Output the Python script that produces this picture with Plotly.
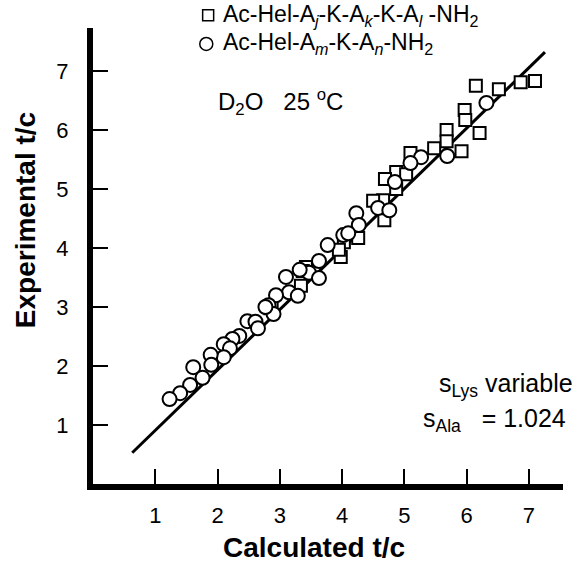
import plotly.graph_objects as go

# Ac-Hel-Aj-K-Ak-K-Al-NH2 peptides (squares): calculated vs experimental t/c
sq_calc = [6.15, 6.52, 6.87, 7.10, 5.97, 5.98, 6.21, 5.92, 5.68, 5.68, 5.48, 5.10,
           4.87, 5.03, 4.69, 4.87, 4.66, 4.50, 4.68, 4.03, 4.26, 3.98, 3.95, 3.42,
           3.37, 3.34, 2.85, 2.87]
sq_exp = [6.75, 6.69, 6.81, 6.83, 6.34, 6.17, 5.95, 5.64, 6.00, 5.81, 5.69, 5.61,
          5.29, 5.25, 5.17, 5.00, 4.81, 4.80, 4.47, 4.10, 4.17, 3.85, 3.97, 3.68,
          3.61, 3.36, 2.98, 3.02]

# Ac-Hel-Am-K-An-NH2 peptides (circles)
ci_calc = [6.32, 5.69, 5.27, 5.10, 4.85, 4.58, 4.76, 4.23, 4.27, 4.02, 4.10, 3.77,
           3.63, 3.47, 3.63, 3.10, 3.32, 3.15, 3.29, 2.94, 2.82, 2.90, 2.77, 2.48,
           2.61, 2.65, 2.35, 2.24, 2.10, 2.20, 2.10, 1.89, 1.90, 1.61, 1.76, 1.56,
           1.40, 1.23]
ci_exp = [6.46, 5.56, 5.54, 5.44, 5.12, 4.68, 4.64, 4.59, 4.39, 4.22, 4.25, 4.05,
          3.78, 3.58, 3.49, 3.51, 3.63, 3.25, 3.19, 3.20, 3.03, 2.88, 3.00, 2.76,
          2.75, 2.64, 2.51, 2.46, 2.37, 2.30, 2.15, 2.19, 2.02, 1.98, 1.80, 1.68,
          1.54, 1.44]

# fitted line endpoints
fit_x = [0.63, 7.26]
fit_y = [0.53, 7.32]

ticks = [1, 2, 3, 4, 5, 6, 7]

sq_name = "Ac-Hel-A<sub><i>j</i></sub>-K-A<sub><i>k</i></sub>-K-A<sub><i>l</i></sub> -NH<sub>2</sub>"
ci_name = "Ac-Hel-A<sub><i>m</i></sub>-K-A<sub><i>n</i></sub>-NH<sub>2</sub>"

FONT = "Liberation Sans, Arial, sans-serif"

fig = go.Figure()
fig.add_trace(go.Scatter(x=fit_x, y=fit_y, mode="lines",
                         line=dict(color="black", width=3), showlegend=False,
                         hoverinfo="skip"))
fig.add_trace(go.Scatter(
    x=sq_calc, y=sq_exp, mode="markers", name=sq_name, showlegend=False,
    marker=dict(symbol="square", size=12, color="white",
                line=dict(color="black", width=2))))
fig.add_trace(go.Scatter(
    x=ci_calc, y=ci_exp, mode="markers", name=ci_name, showlegend=False,
    marker=dict(symbol="circle", size=14, color="white",
                line=dict(color="black", width=2))))

axis_common = dict(
    showgrid=False, zeroline=False, showline=True, linecolor="black", linewidth=6,
    ticks="inside", ticklen=15, tickwidth=2, tickcolor="black",
    tickvals=ticks, ticktext=[str(t) for t in ticks],
    tickfont=dict(family=FONT, size=22, color="black"),
)

fig.update_xaxes(range=[0, 7.55], ticklabelstandoff=7, **axis_common)
fig.update_yaxes(range=[0, 7.73], ticklabelstandoff=14, **axis_common)

# manual legend (key symbols + labels), placed in paper space above the data
L_TOP = 1.028   # paper y of first legend row
L_BOT = 0.965   # paper y of second legend row
L_KEY = 0.245   # paper x of key symbols
L_TXT = 0.272   # paper x of label text

shapes = [
    dict(type="rect", xref="paper", yref="paper", xsizemode="pixel", ysizemode="pixel",
         xanchor=L_KEY, yanchor=L_TOP, x0=-5.5, x1=5.5, y0=-5.5, y1=5.5,
         line=dict(color="black", width=1.5), fillcolor="white"),
    dict(type="circle", xref="paper", yref="paper", xsizemode="pixel", ysizemode="pixel",
         xanchor=L_KEY - 0.004, yanchor=L_BOT, x0=-6.5, x1=6.5, y0=-6.5, y1=6.5,
         line=dict(color="black", width=1.5), fillcolor="white"),
]

annos = [
    dict(text=sq_name, xref="paper", yref="paper", x=L_TXT, y=L_TOP,
         xanchor="left", yanchor="middle", showarrow=False,
         font=dict(family=FONT, size=23, color="black")),
    dict(text=ci_name, xref="paper", yref="paper", x=L_TXT, y=L_BOT,
         xanchor="left", yanchor="middle", showarrow=False,
         font=dict(family=FONT, size=23, color="black")),
    dict(text="<b>Calculated t/c</b>", xref="x", yref="paper", x=3.55, y=-0.14,
         xanchor="center", yanchor="middle", showarrow=False,
         font=dict(family=FONT, size=28, color="black")),
    dict(text="<b>Experimental t/c</b>", xref="paper", yref="y", x=-0.145, y=4.47,
         xanchor="center", yanchor="middle", textangle=-90, showarrow=False,
         font=dict(family=FONT, size=28, color="black")),
    dict(text="D<sub>2</sub>O&nbsp;&nbsp; 25 <sup>o</sup>C", xref="x", yref="y", x=1.97, y=6.48,
         xanchor="left", yanchor="middle", showarrow=False,
         font=dict(family=FONT, size=24, color="black")),
    dict(text="s<sub>Lys</sub> variable", xref="paper", yref="y", x=1.025, y=1.68,
         xanchor="right", yanchor="middle", showarrow=False,
         font=dict(family=FONT, size=25, color="black")),
    dict(text="s<sub>Ala</sub>&nbsp;&nbsp; = 1.024", xref="paper", yref="y", x=1.01, y=1.08,
         xanchor="right", yanchor="middle", showarrow=False,
         font=dict(family=FONT, size=25, color="black")),
]

fig.update_layout(
    width=579, height=565,
    margin=dict(l=93, r=16, t=28, b=81, autoexpand=False),
    paper_bgcolor="white", plot_bgcolor="white",
    annotations=annos, shapes=shapes, showlegend=False,
)

fig.write_html("out.html")
